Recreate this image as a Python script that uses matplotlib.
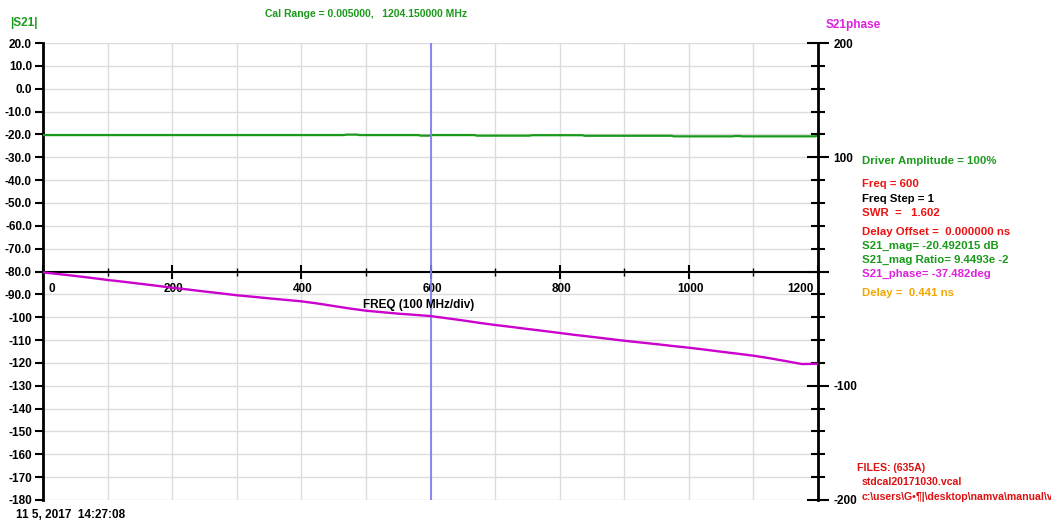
import matplotlib
matplotlib.use("Agg")
import matplotlib.pyplot as plt

plt.rcParams['font.family'] = ['Liberation Sans', 'DejaVu Sans']
plt.rcParams['font.weight'] = 'bold'

# ---- data ----
mag_freq = [0, 466, 470, 486, 490, 581, 585, 598, 602, 668, 672, 753, 757, 835, 839, 973, 977,
            1068, 1071, 1079, 1082, 1196, 1200]
mag_db = [-20.3, -20.3, -20.1, -20.1, -20.3, -20.3, -20.55, -20.55, -20.3, -20.3, -20.55, -20.55,
          -20.35, -20.35, -20.6, -20.6, -20.85, -20.85, -20.7, -20.7, -20.85, -20.85, -20.4]

phase_freq = [0, 25, 50, 75, 100, 125, 150, 175, 200, 225, 250, 275, 300, 325, 350, 375, 400,
              425, 450, 475, 500, 525, 550, 575, 600, 625, 650, 675, 700, 725, 750, 775, 800,
              825, 850, 875, 900, 925, 950, 975, 1000, 1025, 1050, 1075, 1100, 1125, 1150,
              1175, 1200]
phase_deg = [-0.8, -2.3, -3.9, -5.6, -7.4, -9.0, -10.7, -12.4, -14.2, -15.8, -17.5, -19.1,
             -20.8, -22.1, -23.5, -24.8, -26.1, -28.0, -30.2, -32.4, -34.3, -35.6, -36.9,
             -37.9, -39.0, -40.9, -42.8, -44.9, -46.8, -48.5, -50.3, -52.0, -53.8, -55.6,
             -57.2, -58.9, -60.6, -62.1, -63.6, -65.2, -66.7, -68.4, -70.2, -71.9, -73.7,
             -75.9, -78.4, -81.0, -80.8]

cursor_freq = 600
x_major = [0, 200, 400, 600, 800, 1000, 1200]
left_ticks = list(range(20, -181, -10))
right_major = [-200, -100, 0, 100, 200]
right_labels = ['-200', '-100', '', '100', '200']

W, H = 1051, 522
fig = plt.figure(figsize=(W / 100, H / 100), dpi=100)
ax = fig.add_axes([43 / W, 1 - 500 / H, (818 - 43) / W, (500 - 43) / H])
ax2 = ax.twinx()

GREEN = '#1a9a1a'
MAG = '#cc00cc'

ax.set_xlim(0, 1200)
ax.set_ylim(-180, 20)
ax2.set_ylim(-200, 200)

# grid
ax.set_xticks(range(0, 1201, 100), minor=True)
ax.set_xticks(x_major)
ax.set_yticks(left_ticks)
ax.grid(True, which='both', color='#dcdcdc', lw=1.0)
ax.set_axisbelow(True)

# lines
ax.plot(mag_freq, mag_db, color=GREEN, lw=1.6, zorder=3)
ax2.plot(phase_freq, phase_deg, color=MAG, lw=1.7, zorder=3)
ax.axvline(cursor_freq, color='#8080ee', lw=1.3, zorder=4)

# spines
for s in ['top', 'right']:
    ax.spines[s].set_visible(False)
ax.spines['left'].set_linewidth(2)
ax.spines['bottom'].set_position(('data', -80))
ax.spines['bottom'].set_linewidth(1.5)
for s in ['top', 'left', 'bottom']:
    ax2.spines[s].set_visible(False)
ax2.spines['right'].set_linewidth(2)

# left ticks
def fmt(v):
    return f"{v:.1f}" if abs(v) < 100 else f"{v:d}"
ax.set_yticklabels([fmt(v) for v in left_ticks])
ax.tick_params(axis='y', which='major', direction='out', length=6, width=1.5,
               labelsize=8.5, pad=2, colors='black')

# x ticks (labels drawn manually for precise placement)
ax.tick_params(axis='x', which='major', direction='inout', length=10, width=1.5,
               labelbottom=False)
ax.tick_params(axis='x', which='minor', direction='inout', length=6, width=1.0)
x_offsets = {0: 8.5, 1200: -18}
for v in x_major:
    ax.annotate(str(v), xy=(v, -80), xycoords='data',
                xytext=(x_offsets.get(v, 1.5), -17), textcoords='offset pixels',
                ha='center', va='center', fontsize=8.5, fontweight='bold')

# right ticks
ax2.set_yticks(right_major)
ax2.set_yticklabels(right_labels)
ax2.set_yticks(range(-200, 201, 20), minor=True)
ax2.tick_params(axis='y', which='major', direction='inout', length=16, width=1.5,
                labelsize=8.5, pad=3)
ax2.tick_params(axis='y', which='minor', direction='inout', length=10, width=1.5)

def ftext(x, y, s, color='black', size=7.5, **kw):
    fig.text(x / W, 1 - y / H, s, color=color, fontsize=size, fontweight='bold',
             va='center', **kw)

ftext(10, 23, '|S21|', GREEN, 8.5)
ftext(265, 14, 'Cal Range = 0.005000,   1204.150000 MHz', GREEN, 7.5)
ftext(826, 25, 'S21phase', '#dd22dd', 8.5)
ftext(363, 305, 'FREQ (100 MHz/div)', 'black', 8.5)
ftext(16, 515, '11 5, 2017  14:27:08', 'black', 8.5)

RED = '#ee1111'
PS = 8.2
ftext(862, 161, 'Driver Amplitude = 100%', GREEN, PS)
ftext(862, 184, 'Freq = 600', RED, PS)
ftext(862, 199, 'Freq Step = 1', 'black', PS)
ftext(862, 213, 'SWR  =   1.602', RED, PS)
ftext(862, 232, 'Delay Offset =  0.000000 ns', RED, PS)
ftext(862, 246, 'S21_mag= -20.492015 dB', GREEN, PS)
ftext(862, 260, 'S21_mag Ratio= 9.4493e -2', GREEN, PS)
ftext(862, 274, 'S21_phase= -37.482deg', '#dd22dd', PS)
ftext(862, 293, 'Delay =  0.441 ns', '#f0a800', PS)

ftext(857, 468, 'FILES: (635A)', '#dd1111', 7.6)
ftext(862, 482, 'stdcal20171030.vcal', '#dd1111', 7.6)
ftext(862, 497, 'c:\\users\\G\u2022\u00b6|\\desktop\\namva\\manual\\vna', '#dd1111', 7.6)

fig.savefig('out.png', dpi=100)
